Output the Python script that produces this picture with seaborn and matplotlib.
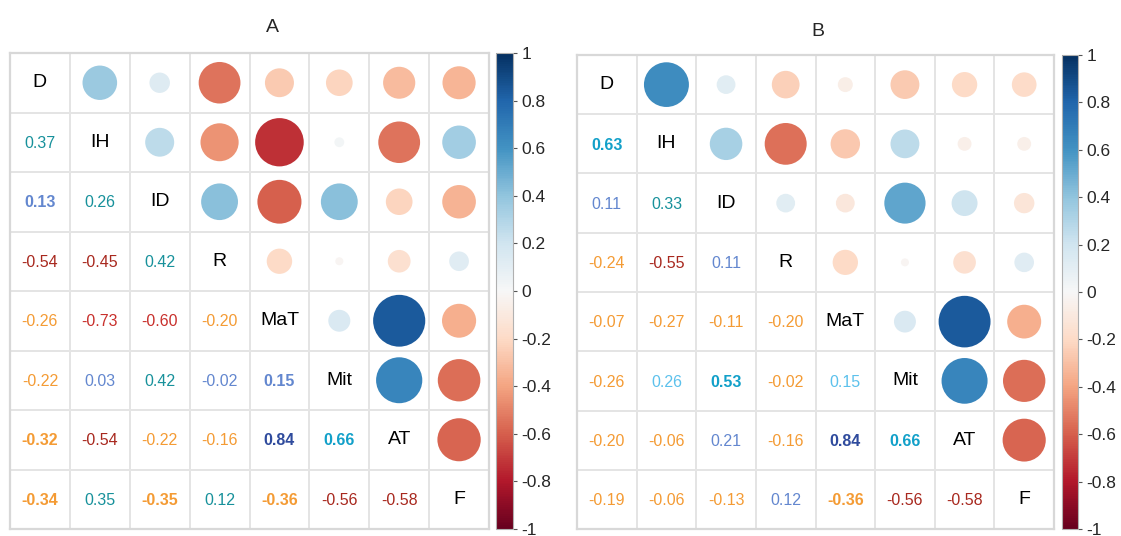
import numpy as np
import pandas as pd
import matplotlib
matplotlib.use("Agg")
import matplotlib.pyplot as plt
import seaborn as sns
from matplotlib.patches import Circle
from matplotlib.colors import ListedColormap, Normalize
from matplotlib.cm import ScalarMappable
from matplotlib.ticker import FuncFormatter

variables = ["D", "IH", "ID", "R", "MaT", "Mit", "AT", "F"]

# lower triangle of each correlation matrix, row by row
corr_a_rows = [
    [],
    [0.37],
    [0.13, 0.26],
    [-0.54, -0.45, 0.42],
    [-0.26, -0.73, -0.60, -0.20],
    [-0.22, 0.03, 0.42, -0.02, 0.15],
    [-0.32, -0.54, -0.22, -0.16, 0.84, 0.66],
    [-0.34, 0.35, -0.35, 0.12, -0.36, -0.56, -0.58],
]
corr_b_rows = [
    [],
    [0.63],
    [0.11, 0.33],
    [-0.24, -0.55, 0.11],
    [-0.07, -0.27, -0.11, -0.20],
    [-0.26, 0.26, 0.53, -0.02, 0.15],
    [-0.20, -0.06, 0.21, -0.16, 0.84, 0.66],
    [-0.19, -0.06, -0.13, 0.12, -0.36, -0.56, -0.58],
]

# text colour codes for the numbers (upper case = bold)
text_a = ["", "t", "St", "ddt", "orro", "ostsS", "OdooKC", "OtOtOdd"]
text_b = ["", "C", "st", "ods", "oooo", "olCol", "oosoKC", "ooosOdd"]

cbar_ticks = [1, 0.8, 0.6, 0.4, 0.2, 0, -0.2, -0.4, -0.6, -0.8, -1]

text_colors = {
    "o": "#f49b34", "d": "#a8281e", "r": "#c8302c", "s": "#6387cf",
    "t": "#17919b", "c": "#12a0c9", "k": "#2f4b9d", "l": "#5cc1ec",
}


def full_matrix(rows):
    n = len(variables)
    m = np.eye(n)
    for i, row in enumerate(rows):
        for j, v in enumerate(row):
            m[i, j] = v
            m[j, i] = v
    return pd.DataFrame(m, index=variables, columns=variables)


plt.rcParams["axes.unicode_minus"] = False
sns.set_style("white")
plt.rcParams["font.family"] = ["Liberation Sans Narrow", "Liberation Sans", "DejaVu Sans"]

cmap = plt.get_cmap("RdBu")
norm = Normalize(-1, 1)


def draw_panel(fig, rect, cbar_rect, corr, codes):
    ax = fig.add_axes(rect)
    blank = pd.DataFrame(np.zeros(corr.shape), index=corr.index, columns=corr.columns)
    sns.heatmap(blank, ax=ax, cmap=ListedColormap(["white"]), cbar=False,
                linewidths=1.4, linecolor="#e4e4e4",
                xticklabels=False, yticklabels=False)
    for s in ax.spines.values():
        s.set_visible(True)
        s.set_color("#d8d8d8")
        s.set_linewidth(1.6)
    n = len(variables)
    for i in range(n):
        for j in range(n):
            v = corr.iloc[i, j]
            if i == j:
                ax.text(j + 0.5, i + 0.5, variables[i], ha="center", va="center",
                        fontsize=14, color="black")
            elif j > i:
                r = 0.475 * np.sqrt(abs(v))
                ax.add_patch(Circle((j + 0.5, i + 0.5), r, color=cmap(norm(v)), lw=0))
            else:
                code = codes[i][j]
                ax.text(j + 0.5, i + 0.52, f"{v:.2f}", ha="center", va="center",
                        fontsize=11.5, color=text_colors[code.lower()],
                        fontweight="bold" if code.isupper() else "normal")
    cax = fig.add_axes(cbar_rect)
    cb = fig.colorbar(ScalarMappable(norm=norm, cmap=cmap), cax=cax, ticks=cbar_ticks)
    cb.outline.set_edgecolor("#b0b0b0")
    cb.outline.set_linewidth(0.8)
    cax.yaxis.set_major_formatter(FuncFormatter(lambda x, p: f"{x:g}"))
    cax.tick_params(axis="y", length=3, width=0.8, color="#555555",
                    labelsize=12.5, pad=3)
    return ax


fig = plt.figure(figsize=(11.21, 5.36), dpi=100)
W, H = 1121, 536

corr_a = full_matrix(corr_a_rows)
corr_b = full_matrix(corr_b_rows)

draw_panel(fig, [10 / W, 7 / H, 479 / W, 476 / H],
           [496 / W, 7 / H, 17 / W, 476 / H], corr_a, text_a)
draw_panel(fig, [577 / W, 7 / H, 477 / W, 474 / H],
           [1062 / W, 7 / H, 16 / W, 474 / H], corr_b, text_b)

fig.text(272 / W, 1 - 28 / H, "A", ha="center", va="center", fontsize=14)
fig.text(818 / W, 1 - 32 / H, "B", ha="center", va="center", fontsize=14)

fig.savefig("out.png", dpi=100)
